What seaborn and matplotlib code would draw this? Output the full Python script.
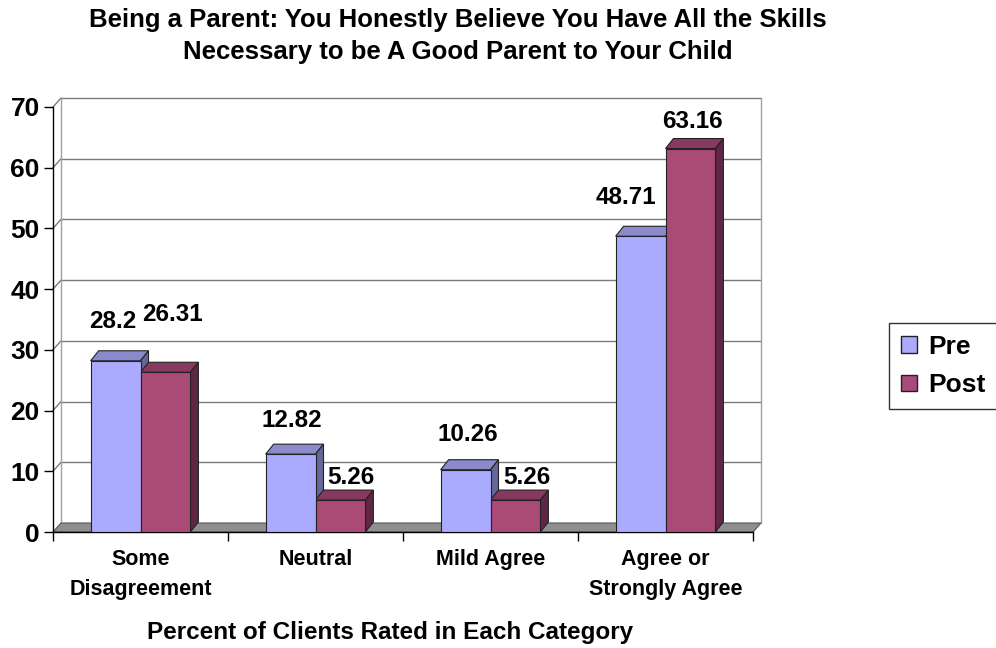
"""
Being a Parent survey: pre/post ratings shown as an Excel-style 3D clustered bar chart.
"""

import pandas as pd
import matplotlib.pyplot as plt
import seaborn as sns
from matplotlib.patches import Polygon, Patch

# chart data
categories = ['Some\nDisagreement', 'Neutral', 'Mild Agree', 'Agree or\nStrongly Agree']
series = ['Pre', 'Post']
pre_values = [28.2, 12.82, 10.26, 48.71]
post_values = [26.31, 5.26, 5.26, 63.16]
y_ticks = [0, 10, 20, 30, 40, 50, 60, 70]

title = ('Being a Parent: You Honestly Believe You Have All the Skills\n'
         'Necessary to be A Good Parent to Your Child')
x_label = 'Percent of Clients Rated in Each Category'

# label nudges in pixels from the top centre of each bar (Excel moved some of them)
pre_label_offsets = [(-3, 39), (1, 34), (2, 35), (-15, 39)]
post_label_offsets = [(7, 58), (10, 23), (11, 23), (2, 27)]

face_colors = {'Pre': '#AAAAFF', 'Post': '#A94A77'}
top_colors = {'Pre': '#8A8ACC', 'Post': '#88395F'}
side_colors = {'Pre': '#666699', 'Post': '#5E2745'}

df = pd.DataFrame({
    'Category': categories * 2,
    'Percent': pre_values + post_values,
    'Phase': ['Pre'] * len(categories) + ['Post'] * len(categories),
})

sns.set_style('white')
plt.rcParams['font.family'] = ['Liberation Sans', 'DejaVu Sans']
plt.rcParams['font.weight'] = 'bold'
plt.rcParams['text.color'] = 'black'
plt.rcParams['axes.labelcolor'] = 'black'
plt.rcParams['xtick.color'] = 'black'
plt.rcParams['ytick.color'] = 'black'

W, H = 996, 648
fig = plt.figure(figsize=(W / 100, H / 100), dpi=100)
ax = fig.add_axes([53 / W, (H - 532) / H, 700 / W, 425 / H])

sns.barplot(data=df, x='Category', y='Percent', hue='Phase', palette=face_colors,
            width=0.57, gap=0, edgecolor='#222222', linewidth=0.8, saturation=1,
            legend=False, ax=ax)
ax.set_xlim(-0.5, len(categories) - 0.5)
ax.set_ylim(0, 70)


def px_to_data(dx, dy):
    inv = ax.transData.inverted()
    x0, y0 = inv.transform((0, 0))
    x1, y1 = inv.transform((dx, dy))
    return x1 - x0, y1 - y0


wall_dx, wall_dy = px_to_data(8, 9)
bar_dx, bar_dy = px_to_data(8, 10)
x_left, x_right = ax.get_xlim()

# back wall with gridlines
for t in y_ticks[1:]:
    ax.plot([x_left + wall_dx, x_right + wall_dx], [t + wall_dy] * 2,
            color='#7A7A7A', lw=1, zorder=0.5, clip_on=False)
    ax.plot([x_left, x_left + wall_dx], [t, t + wall_dy],
            color='#7A7A7A', lw=1, zorder=0.5, clip_on=False)
for xe in [x_left + wall_dx, x_right + wall_dx]:
    ax.plot([xe, xe], [wall_dy, y_ticks[-1] + wall_dy],
            color='#A0A0A0', lw=1, zorder=0.5, clip_on=False)

# floor
ax.add_patch(Polygon([(x_left, 0), (x_left + wall_dx, wall_dy),
                      (x_right + wall_dx, wall_dy), (x_right, 0)],
                     closed=True, facecolor='#8F8F8F', edgecolor='#555555',
                     lw=0.8, zorder=1, clip_on=False))

# 3D tops and sides of the bars
for container, phase in zip(ax.containers, series):
    for bar in container:
        bar.set_zorder(3)
        x0 = bar.get_x()
        x1 = x0 + bar.get_width()
        h = bar.get_height()
        top = Polygon([(x0, h), (x1, h), (x1 + bar_dx, h + bar_dy), (x0 + bar_dx, h + bar_dy)],
                      closed=True, facecolor=top_colors[phase], edgecolor='#222222',
                      lw=0.8, zorder=2, clip_on=False)
        side = Polygon([(x1, 0), (x1, h), (x1 + bar_dx, h + bar_dy), (x1 + bar_dx, bar_dy)],
                       closed=True, facecolor=side_colors[phase], edgecolor='#222222',
                       lw=0.8, zorder=2, clip_on=False)
        ax.add_patch(top)
        ax.add_patch(side)

# data labels
for container, values, offsets in zip(ax.containers, [pre_values, post_values],
                                      [pre_label_offsets, post_label_offsets]):
    for bar, v, (ox, oy) in zip(container, values, offsets):
        ax.annotate(f'{v:g}', xy=(bar.get_x() + bar.get_width() / 2, v),
                    xytext=(ox, oy), textcoords='offset pixels',
                    ha='center', va='center', fontsize=17.5, fontweight='bold', zorder=5)

# axes, ticks
for side_name in ['top', 'right']:
    ax.spines[side_name].set_visible(False)
for side_name in ['left', 'bottom']:
    ax.spines[side_name].set_color('black')
    ax.spines[side_name].set_linewidth(1)

ax.set_yticks(y_ticks)
ax.tick_params(axis='y', left=True, length=6.5, width=1, color='black', labelsize=19, pad=3)
ax.set_xticks(range(len(categories)))
ax.set_xticklabels(categories, linespacing=1.55)
ax.tick_params(axis='x', which='major', bottom=False, labelsize=15.5, pad=9)
ax.set_xticks([i - 0.5 for i in range(len(categories) + 1)], minor=True)
ax.tick_params(axis='x', which='minor', bottom=True, length=6.5, width=1, color='black')

ax.set_ylabel('')
ax.set_xlabel(x_label, fontsize=17.5, fontweight='bold')
ax.xaxis.label.set_va('center')
ax.xaxis.set_label_coords((390 - 53) / 700, (532 - 633) / 425)

fig.text(458 / W, 1 - 36 / H, title, ha='center', va='center',
         fontsize=18.5, fontweight='bold', linespacing=1.4)

# legend
handles = [Patch(facecolor=face_colors[s], edgecolor='#222222', label=s) for s in series]
leg = fig.legend(handles=handles, loc='center left', bbox_to_anchor=(889 / W, 1 - 366 / H),
                 prop={'weight': 'bold', 'size': 19}, frameon=True, fancybox=False,
                 edgecolor='black', handlelength=0.6, handleheight=0.6,
                 handletextpad=0.45, borderpad=0.45, labelspacing=0.55, borderaxespad=0)
leg.get_frame().set_linewidth(1)

fig.savefig('out.png', dpi=100)
